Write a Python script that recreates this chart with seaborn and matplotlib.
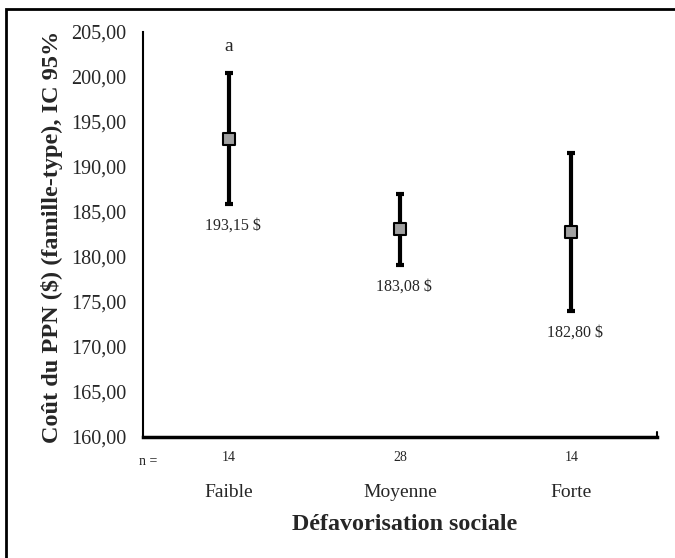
import numpy as np
import pandas as pd
import matplotlib
matplotlib.use("Agg")
import matplotlib.pyplot as plt
import seaborn as sns
from matplotlib.patches import Rectangle

# données
categories = ["Faible", "Moyenne", "Forte"]
moyennes = [193.15, 183.08, 182.80]
ic_bas = [185.9, 179.1, 174.0]
ic_haut = [200.4, 187.0, 191.6]
effectifs = [14, 28, 14]
etiquettes = ["193,15 $", "183,08 $", "182,80 $"]
lettres = ["a", "", ""]
yticks = [160, 165, 170, 175, 180, 185, 190, 195, 200, 205]

sns.set_style("white")
plt.rcParams['font.family'] = ['Liberation Serif', 'DejaVu Serif']

df = pd.DataFrame({"cat": categories, "moy": moyennes})

fig = plt.figure(figsize=(6.75, 5.58), dpi=100)
ax = fig.add_axes([143/675, 1 - 437/558, (657-143)/675, (437-32)/558])

x = np.arange(len(categories))
err = [np.array(moyennes) - np.array(ic_bas), np.array(ic_haut) - np.array(moyennes)]
ax.errorbar(x, moyennes, yerr=err, fmt='none', ecolor='black', elinewidth=3,
            capsize=3, capthick=3, zorder=2)
sns.scatterplot(data=df, x="cat", y="moy", marker='s', s=80, color='#a0a0a0',
                edgecolor='black', linewidth=1.5, ax=ax, zorder=3, legend=False)

for i in range(len(categories)):
    ax.annotate(etiquettes[i], (x[i], ic_bas[i]), xytext=(3, -10), textcoords='offset points',
                ha='center', va='top', fontsize=11.5)
    if lettres[i]:
        ax.annotate(lettres[i], (x[i], ic_haut[i]), xytext=(0, 13), textcoords='offset points',
                    ha='center', va='bottom', fontsize=14)

ax.set_xlim(-0.5, 2.5)
ax.set_ylim(160, 205)
ax.set_yticks(yticks)
ax.set_yticklabels([f"{v:.2f}".replace(".", ",") for v in yticks], fontsize=14.5)
ax.set_xticks(x)
ax.set_xticklabels([str(n) for n in effectifs], fontsize=10)
ax.tick_params(axis='both', direction='out', length=4, width=1.2, color='black')
ax.tick_params(axis='x', pad=6)
ax.tick_params(axis='y', pad=8)

for s in ["top", "right"]:
    ax.spines[s].set_visible(False)
for s in ["left", "bottom"]:
    ax.spines[s].set_color("black")
ax.spines["left"].set_linewidth(1.5)
ax.spines["bottom"].set_linewidth(2.5)

# petite marque à la fin de l'axe x
ax.plot([2.5, 2.5], [160, 160.6], color='black', lw=1.5, clip_on=False)

ax.text(-0.47, -0.045, "n =", transform=ax.get_xaxis_transform(), fontsize=10,
        ha='center', va='top')
for i, c in enumerate(categories):
    ax.text(x[i], -0.115, c, transform=ax.get_xaxis_transform(), fontsize=14,
            ha='center', va='top')

ax.set_xlabel("")
ax.set_ylabel("")
fig.text(52/675, 1 - 237/558, "Coût du PPN ($) (famille-type), IC 95%", fontsize=17.5,
         fontweight='bold', rotation=90, ha='center', va='center')
fig.text(405/675, 1 - 525/558, "Défavorisation sociale", fontsize=17.3, fontweight='bold',
         ha='center', va='center')

fig.patches.append(Rectangle((6/675, -0.1), 1.2, 1 - 9/558 + 0.1, transform=fig.transFigure,
                             fill=False, edgecolor='black', linewidth=2))

fig.savefig("out.png", dpi=100)
